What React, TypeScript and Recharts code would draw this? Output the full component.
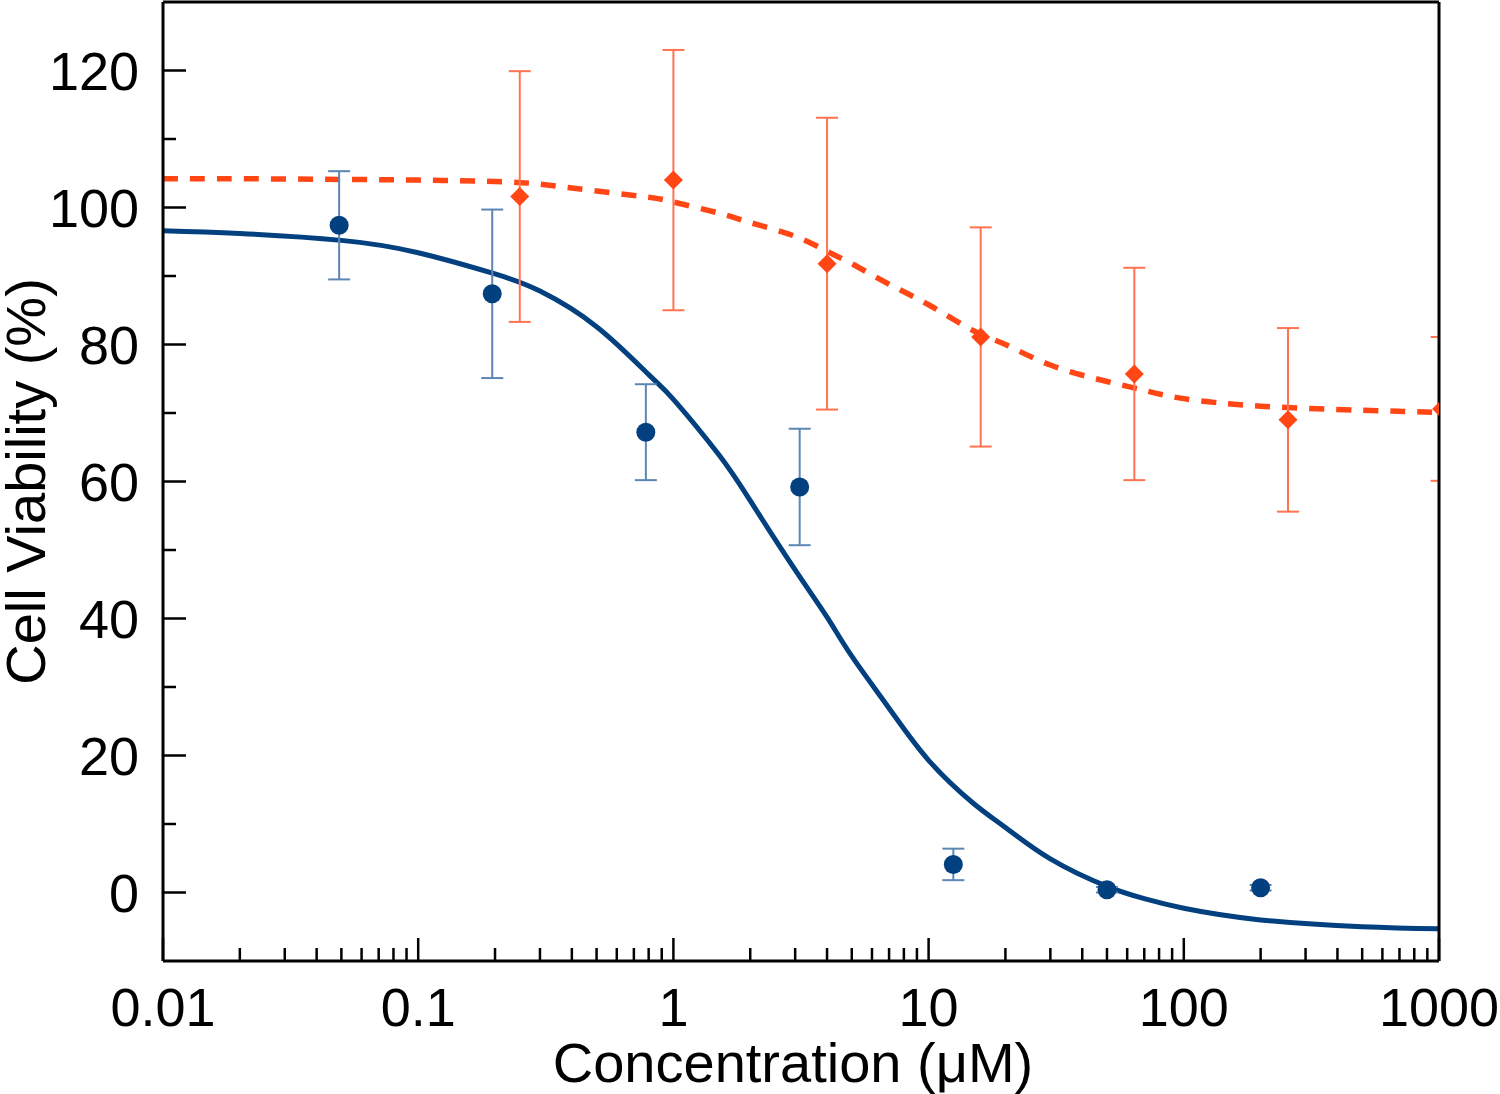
import React from 'react';
import { ComposedChart, Line, Scatter, ErrorBar, XAxis, YAxis, ReferenceLine, Label } from 'recharts';

// measured points (mean ± sd)
const concBlue = [0.049, 0.195, 0.78, 3.125, 12.5, 50, 200];
const viabilityBlue = [97.4, 87.4, 67.2, 59.2, 4.1, 0.4, 0.7];
const errBlue = [7.9, 12.3, 7.0, 8.5, 2.3, 0.4, 0.4];

const concOrange = [0.25, 1, 4, 16, 64, 256, 1024];
const viabilityOrange = [101.6, 104.0, 91.8, 81.1, 75.7, 69.0, 70.6];
const errOrange = [18.3, 19.0, 21.3, 16.0, 15.5, 13.4, 10.5];

// fitted curves
const fitConc = [0.01, 0.02, 0.05, 0.1, 0.2, 0.3, 0.5, 0.8, 1, 1.5, 2, 3, 4, 5, 7, 10, 15, 20, 30, 50, 70, 100, 200, 500, 1000];
const fitBlue = [96.6, 96.2, 95.2, 93.4, 90.3, 87.8, 82.6, 75.6, 72.0, 64.0, 57.2, 47.1, 40.2, 34.5, 26.9, 19.3, 13.0, 9.5, 4.9, 0.9, -0.9, -2.3, -4.0, -5.0, -5.3];
const fitOrange = [104.2, 104.2, 104.1, 104.0, 103.8, 103.4, 102.4, 101.5, 100.8, 99.2, 97.8, 95.8, 93.6, 91.8, 88.8, 85.8, 82.0, 80.0, 77.0, 74.6, 73.3, 72.1, 71.0, 70.4, 70.1];

const xMajor = [0.01, 0.1, 1, 10, 100, 1000];
const xMinorSteps = [2, 3, 4, 5, 6, 7, 8, 9];
const yMajor = [0, 20, 40, 60, 80, 100, 120];
const yMinor = [10, 30, 50, 70, 90, 110];

const xTicks = [...xMajor, ...xMajor.slice(0, -1).flatMap((d) => xMinorSteps.map((m) => m * d))];
const yTicks = [...yMajor, ...yMinor];

const blueData = concBlue.map((x, i) => ({ x, y: viabilityBlue[i], err: errBlue[i] }));
const orangeData = concOrange.map((x, i) => ({ x, y: viabilityOrange[i], err: errOrange[i] }));
const blueFit = fitConc.map((x, i) => ({ x, y: fitBlue[i] }));
const orangeFit = fitConc.map((x, i) => ({ x, y: fitOrange[i] }));

const BLUE = '#03407f';
const BLUE_ERR = '#5d86b4';
const ORANGE = '#ff4614';
const ORANGE_ERR = '#ff7350';
const FONT = '"Liberation Sans", Arial, Helvetica, sans-serif';

const XTick = (props: any) => {
  const { x, y, payload } = props;
  const major = xMajor.includes(payload.value);
  return (
    <g>
      <line x1={x} x2={x} y1={y} y2={y - (major ? 23 : 13)} stroke="#000" strokeWidth={2.5} />
      {major && (
        <text x={x} y={y + 46} textAnchor="middle" dominantBaseline="central" fontSize={54} fontFamily={FONT} fill="#000">
          {String(payload.value)}
        </text>
      )}
    </g>
  );
};

const YTick = (props: any) => {
  const { x, y, payload } = props;
  const major = yMajor.includes(payload.value);
  return (
    <g>
      <line x1={x} x2={x + (major ? 23 : 13)} y1={y} y2={y} stroke="#000" strokeWidth={2.5} />
      {major && (
        <text x={x - 24} y={y} textAnchor="end" dominantBaseline="central" fontSize={54} fontFamily={FONT} fill="#000">
          {payload.value}
        </text>
      )}
    </g>
  );
};

const Dot = (props: any) => <circle cx={props.cx} cy={props.cy} r={9.5} fill={BLUE} />;

const Diamond = (props: any) => {
  const { cx, cy } = props;
  const s = 9.5;
  return <path d={`M${cx},${cy - s}L${cx + s},${cy}L${cx},${cy + s}L${cx - s},${cy}Z`} fill={ORANGE} />;
};

export default function App() {
  return (
    <div style={{ position: 'absolute', left: 0, top: 0, width: 1500, height: 1094, background: '#fff' }}>
      <ComposedChart width={1500} height={1094} margin={{ top: 2, right: 61, bottom: 0, left: 0 }}>
        <XAxis
          dataKey="x"
          type="number"
          scale="log"
          domain={[0.01, 1000]}
          allowDataOverflow
          ticks={xTicks}
          interval={0}
          tick={<XTick />}
          tickLine={false}
          tickSize={0}
          tickMargin={0}
          height={133}
          axisLine={{ stroke: '#000', strokeWidth: 3 }}
        >
          <Label
            content={(p: any) => {
              const vb = p.viewBox || { x: 163, y: 961, width: 1276 };
              return (
                <g>
                  {/* clip for error bars that run past the right frame */}
                  <defs>
                    <clipPath id="plot-clip">
                      <rect x={vb.x} y={0} width={vb.width} height={vb.y} />
                    </clipPath>
                  </defs>
                  <text x={vb.x + vb.width / 2 - 8} y={1062} textAnchor="middle" dominantBaseline="central" fontSize={56} fontFamily={FONT} fill="#000">
                    Concentration (μM)
                  </text>
                </g>
              );
            }}
          />
        </XAxis>
        <YAxis
          type="number"
          domain={[-10, 130]}
          allowDataOverflow
          ticks={yTicks}
          interval={0}
          tick={<YTick />}
          tickLine={false}
          tickSize={0}
          tickMargin={0}
          width={163}
          axisLine={{ stroke: '#000', strokeWidth: 3 }}
        >
          <Label
            content={(p: any) => {
              const vb = p.viewBox || { y: 2, height: 959 };
              const cy = vb.y + vb.height / 2;
              return (
                <text x={25} y={cy} transform={`rotate(-90 25 ${cy})`} textAnchor="middle" dominantBaseline="central" fontSize={56} fontFamily={FONT} fill="#000">
                  Cell Viability (%)
                </text>
              );
            }}
          />
        </YAxis>
        <Line data={blueFit} dataKey="y" type="natural" stroke={BLUE} strokeWidth={5} dot={false} activeDot={false} isAnimationActive={false} />
        <Line data={orangeFit} dataKey="y" type="natural" stroke={ORANGE} strokeWidth={5.5} strokeDasharray="15 12" dot={false} activeDot={false} isAnimationActive={false} />
        <Scatter data={blueData} dataKey="y" shape={<Dot />} isAnimationActive={false}>
          <ErrorBar dataKey="err" direction="y" width={11} stroke={BLUE_ERR} strokeWidth={2} clipPath="url(#plot-clip)" isAnimationActive={false} />
        </Scatter>
        <Scatter data={orangeData} dataKey="y" shape={<Diamond />} isAnimationActive={false}>
          <ErrorBar dataKey="err" direction="y" width={11} stroke={ORANGE_ERR} strokeWidth={2} clipPath="url(#plot-clip)" isAnimationActive={false} />
        </Scatter>
        <ReferenceLine y={130} stroke="#000" strokeWidth={3} />
        <ReferenceLine x={1000} stroke="#000" strokeWidth={3} />
      </ComposedChart>
    </div>
  );
}
